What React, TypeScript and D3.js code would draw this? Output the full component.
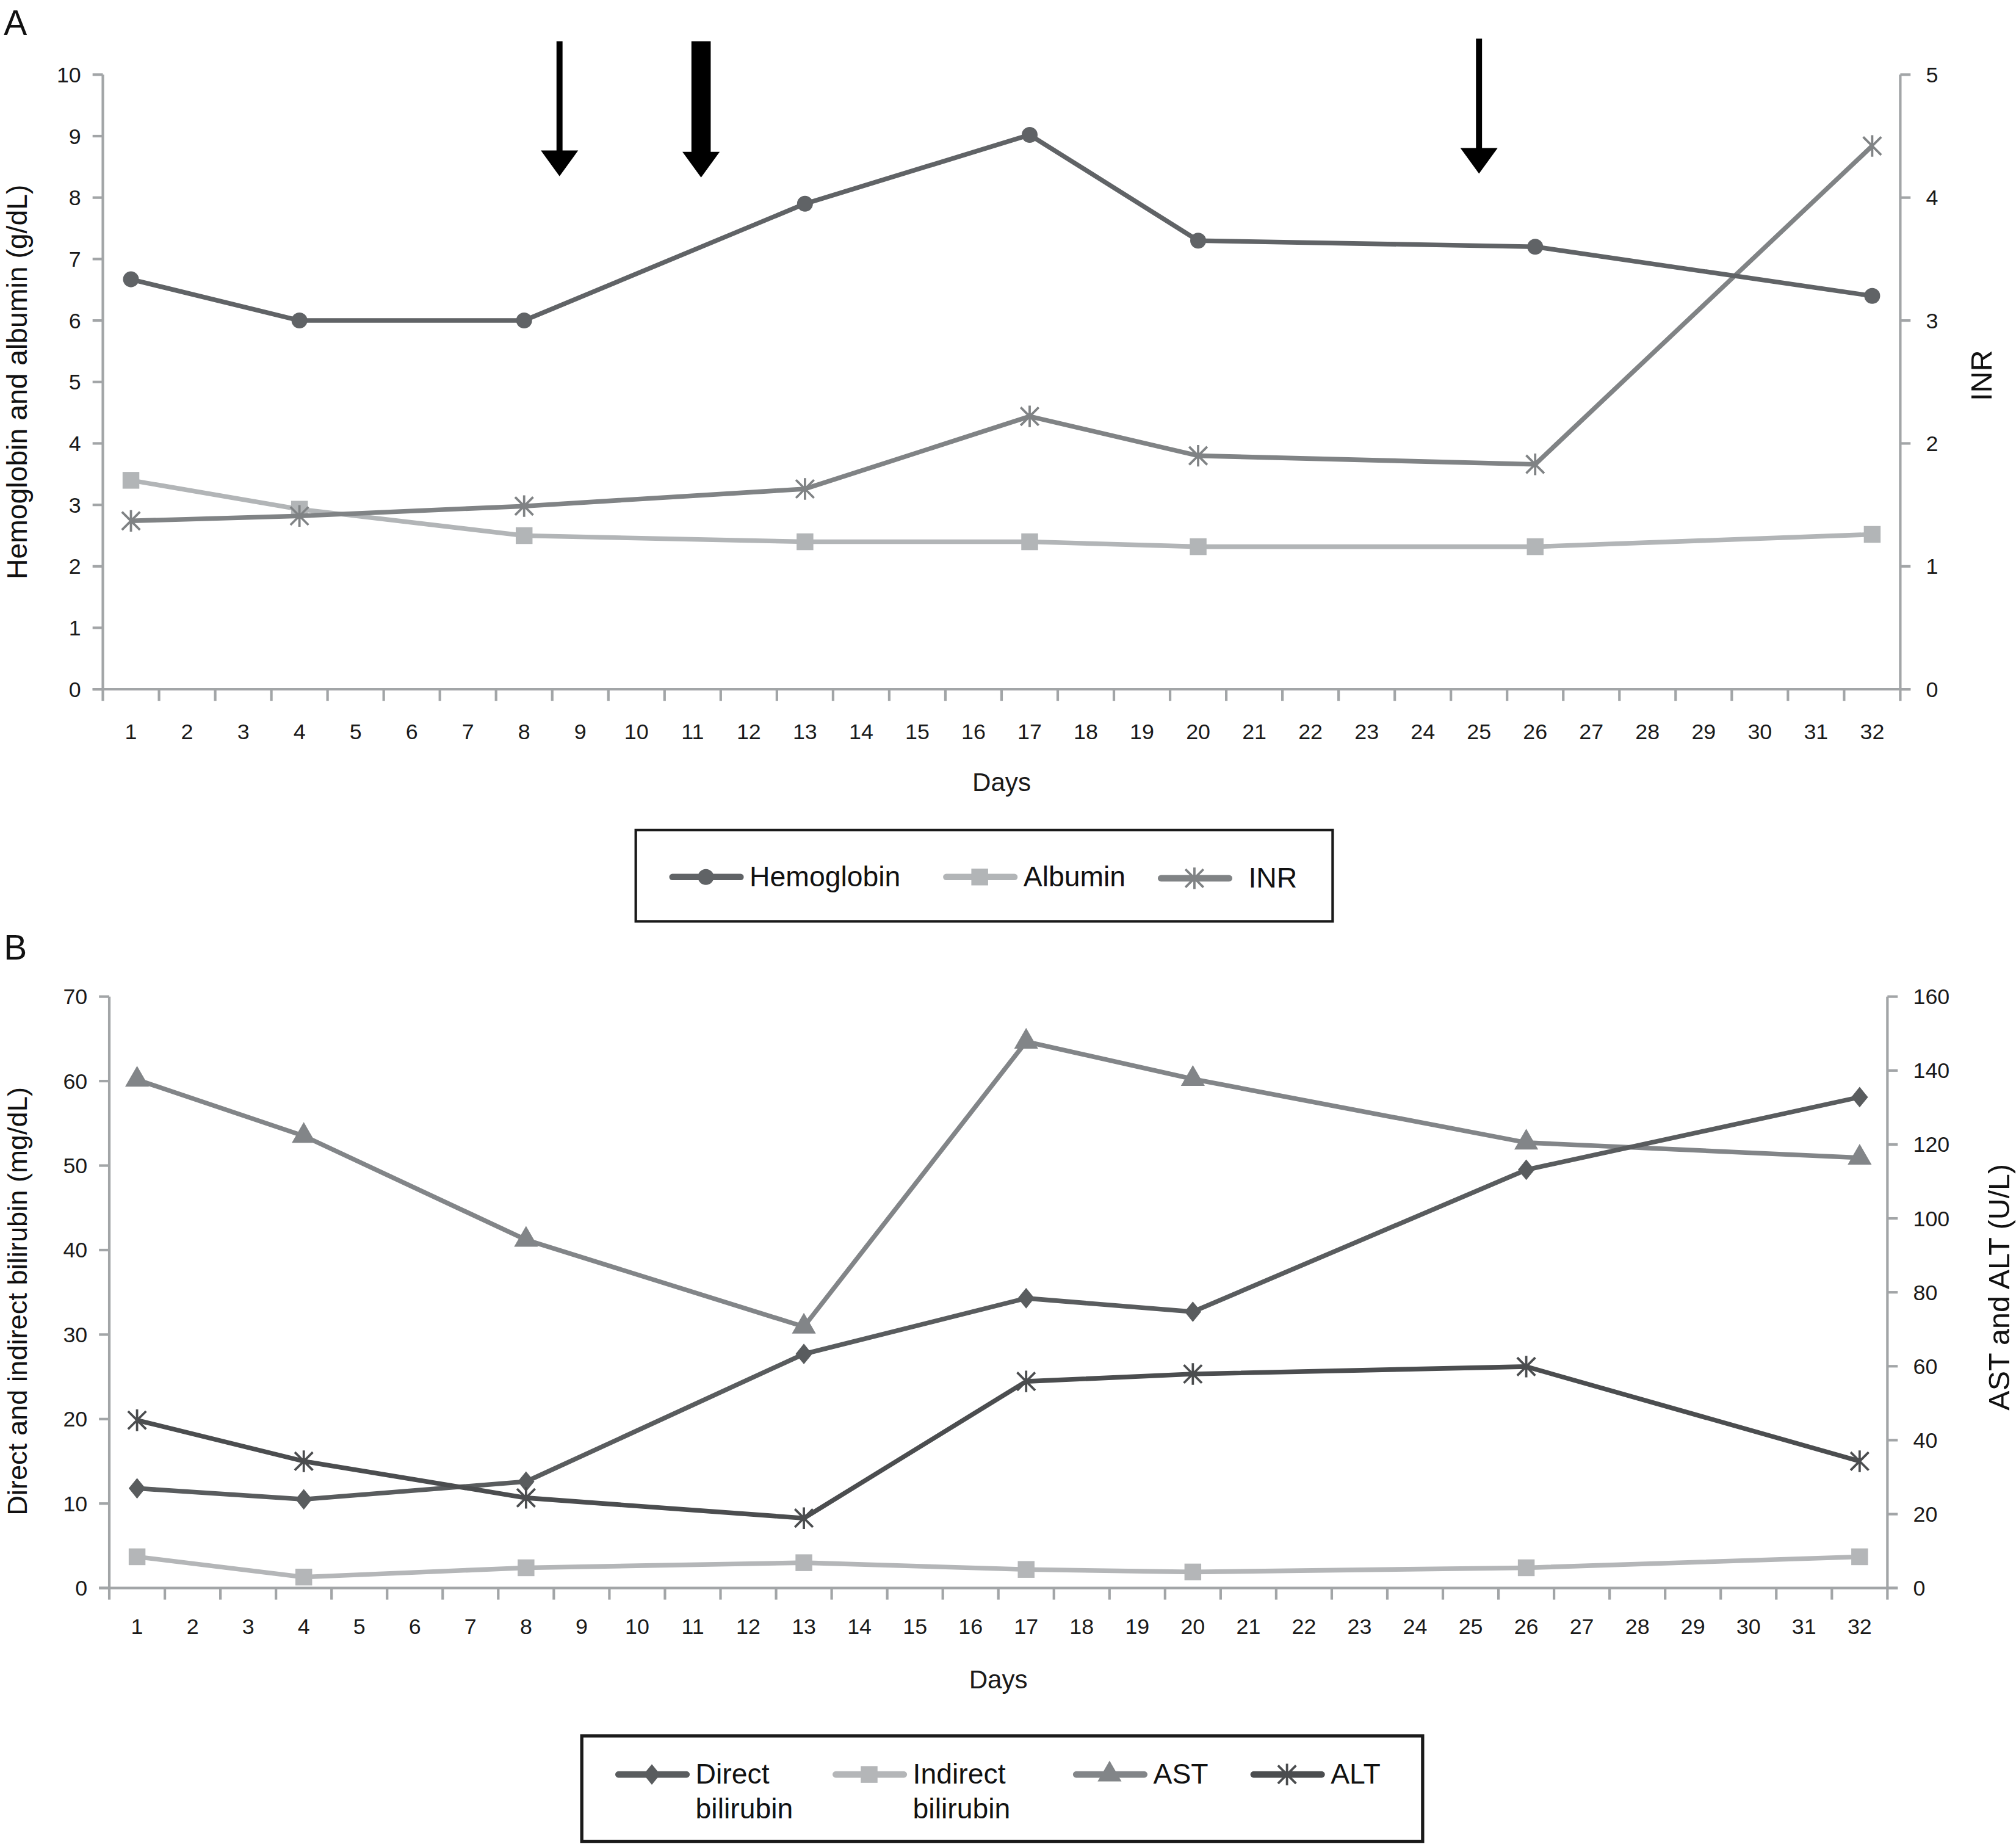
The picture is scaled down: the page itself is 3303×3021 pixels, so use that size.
import { line, scaleBand, scaleLinear, symbol, symbolCircle, symbolSquare, symbolTriangle } from 'd3';

// x axis categories (days) and tick labels
const dayLabels = [
  '1', '2', '3', '4', '5', '6', '7', '8', '9', '10', '11', '12', '13', '14', '15', '16',
  '17', '18', '19', '20', '21', '22', '23', '24', '25', '26', '27', '28', '29', '30', '31', '32',
];
const sampleDays = ['1', '4', '8', '13', '17', '20', '26', '32'];

// panel A
const hemoglobin = [6.67, 6.0, 6.0, 7.9, 9.02, 7.3, 7.2, 6.4];
const albumin = [3.4, 2.93, 2.5, 2.4, 2.4, 2.32, 2.32, 2.52];
const inr = [1.37, 1.41, 1.49, 1.63, 2.22, 1.9, 1.83, 4.42];
const leftTicksA = [0, 1, 2, 3, 4, 5, 6, 7, 8, 9, 10];
const rightTicksA = [0, 1, 2, 3, 4, 5];
const arrowDays = [8.63, 11.15, 25];
const arrowThick = [false, true, false];

// panel B
const directBili = [11.8, 10.5, 12.6, 27.7, 34.3, 32.7, 49.5, 58.1];
const indirectBili = [3.7, 1.3, 2.4, 3.0, 2.2, 1.9, 2.4, 3.7];
const ast = [137.5, 122.3, 94.2, 70.7, 147.8, 137.7, 120.5, 116.4];
const alt = [45.4, 34.3, 24.4, 18.9, 55.9, 57.9, 59.9, 34.3];
const leftTicksB = [0, 10, 20, 30, 40, 50, 60, 70];
const rightTicksB = [0, 20, 40, 60, 80, 100, 120, 140, 160];

const FONT = "'Liberation Sans', Arial, sans-serif";
const AXIS = '#a2a5a7';

type Marker = 'circle' | 'square' | 'star' | 'triangle' | 'diamond';

function markerPath(m: Marker): string {
  if (m === 'star') {
    const r = 7;
    return `M${-r},${-r}L${r},${r}M${-r},${r}L${r},${-r}M0,${-r * 1.2}L0,${r * 1.2}`;
  }
  if (m === 'diamond') return 'M0,-8L6.5,0L0,8L-6.5,0Z';
  const t = { circle: symbolCircle, square: symbolSquare, triangle: symbolTriangle }[m];
  const size = { circle: 120, square: 170, triangle: 150 }[m];
  return symbol(t, size)()!;
}

function Marks({ xs, ys, color, marker }: { xs: number[]; ys: number[]; color: string; marker: Marker }) {
  const pts = xs.map((x, i) => [x, ys[i]] as [number, number]);
  const d = markerPath(marker);
  const star = marker === 'star';
  return (
    <g>
      <path d={line()(pts)!} fill="none" stroke={color} strokeWidth={3.6} strokeLinejoin="round" />
      {pts.map(([x, y], i) => (
        <path
          key={i}
          d={d}
          transform={`translate(${x},${y})`}
          fill={star ? 'none' : color}
          stroke={color}
          strokeWidth={star ? 1.8 : 0}
        />
      ))}
    </g>
  );
}

function Frame({ x0, x1, yTop, yBot, left, right, leftTicks, rightTicks, labelY, daysY }: any) {
  const x = scaleBand().domain(dayLabels).range([x0, x1]);
  const bounds = [...dayLabels.map((d) => x(d)!), x1];
  return (
    <g fontFamily={FONT}>
      <line x1={x0} x2={x0} y1={yTop} y2={yBot} stroke={AXIS} strokeWidth={2} />
      <line x1={x1} x2={x1} y1={yTop} y2={yBot} stroke={AXIS} strokeWidth={2} />
      <line x1={x0 - 8} x2={x1 + 8} y1={yBot} y2={yBot} stroke={AXIS} strokeWidth={2} />
      {bounds.map((bx, i) => (
        <line key={i} x1={bx} x2={bx} y1={yBot} y2={yBot + 9} stroke={AXIS} strokeWidth={2} />
      ))}
      {leftTicks.map((t: number) => (
        <g key={'l' + t}>
          <line x1={x0 - 8} x2={x0} y1={left(t)} y2={left(t)} stroke={AXIS} strokeWidth={2} />
          <text x={x0 - 17} y={left(t)} dy="0.35em" textAnchor="end" fontSize={17} fill="#1a1a1a">
            {t}
          </text>
        </g>
      ))}
      {rightTicks.map((t: number) => (
        <g key={'r' + t}>
          <line x1={x1} x2={x1 + 8} y1={right(t)} y2={right(t)} stroke={AXIS} strokeWidth={2} />
          <text x={x1 + 20} y={right(t)} dy="0.35em" textAnchor="start" fontSize={17} fill="#1a1a1a">
            {t}
          </text>
        </g>
      ))}
      {dayLabels.map((d) => (
        <text key={d} x={x(d)! + x.bandwidth() / 2} y={labelY} textAnchor="middle" fontSize={17} fill="#1a1a1a">
          {d}
        </text>
      ))}
      <text x={(x0 + x1) / 2} y={daysY} textAnchor="middle" fontSize={20} fill="#1a1a1a">
        Days
      </text>
    </g>
  );
}

function LegendItem({ x, y, color, marker, lines }: { x: number; y: number; color: string; marker: Marker; lines: string[] }) {
  return (
    <g>
      <line x1={x} x2={x + 53} y1={y} y2={y} stroke={color} strokeWidth={5} strokeLinecap="round" />
      <path
        d={markerPath(marker)}
        transform={`translate(${x + 26},${y})`}
        fill={marker === 'star' ? 'none' : color}
        stroke={color}
        strokeWidth={marker === 'star' ? 1.8 : 0}
      />
      {lines.map((s, i) => (
        <text key={i} x={x + 60} y={y + 7 + i * 27} fontSize={22} fill="#111" fontFamily={FONT}>
          {s}
        </text>
      ))}
    </g>
  );
}

export default function App() {
  // Panel A scales
  const xA = scaleBand().domain(dayLabels).range([80, 1478]);
  const cxA = (d: string) => xA(d)! + xA.bandwidth() / 2;
  const arrowX = scaleLinear().domain([0.5, 32.5]).range([80, 1478]);
  const yA = scaleLinear().domain([0, 10]).range([536, 58]);
  const yInr = scaleLinear().domain([0, 5]).range([536, 58]);

  // Panel B scales
  const xB = scaleBand().domain(dayLabels).range([85, 1468]);
  const cxB = (d: string) => xB(d)! + xB.bandwidth() / 2;
  const yB = scaleLinear().domain([0, 70]).range([1235, 775]);
  const yEnz = scaleLinear().domain([0, 160]).range([1235, 775]);

  const xsA = sampleDays.map(cxA);
  const xsB = sampleDays.map(cxB);

  return (
    <svg
      width={3303}
      height={3021}
      viewBox="0 0 1568 1434"
      style={{ position: 'absolute', left: 0, top: 0, background: '#fff' }}
    >
      <rect width={1568} height={1434} fill="#fff" />

      {/* Panel A */}
      <text x={3} y={27} fontSize={27} fontFamily={FONT} fill="#111">A</text>
      <Frame x0={80} x1={1478} yTop={58} yBot={536} left={yA} right={yInr} leftTicks={leftTicksA} rightTicks={rightTicksA} labelY={575} daysY={615} />
      <text transform="translate(21,297) rotate(-90)" textAnchor="middle" fontSize={22} fontFamily={FONT} fill="#111">
        Hemoglobin and albumin (g/dL)
      </text>
      <text transform="translate(1549,292) rotate(-90)" textAnchor="middle" fontSize={23} fontFamily={FONT} fill="#111">
        INR
      </text>
      {arrowDays.map((d, i) => {
        const ax = arrowX(d);
        const sw = arrowThick[i] ? 15 : 4.7;
        const top = i === 2 ? 30 : 32;
        const tip = arrowThick[i] ? 138 : i === 2 ? 135 : 137;
        return (
          <g key={i}>
            <rect x={ax - sw / 2} y={top} width={sw} height={tip - top - 15} fill="#000" />
            <path d={`M${ax - 14.5},${tip - 20}L${ax + 14.5},${tip - 20}L${ax},${tip}Z`} fill="#000" />
          </g>
        );
      })}
      <Marks xs={xsA} ys={albumin.map(yA)} color="#b2b5b7" marker="square" />
      <Marks xs={xsA} ys={inr.map(yInr)} color="#808385" marker="star" />
      <Marks xs={xsA} ys={hemoglobin.map(yA)} color="#606366" marker="circle" />

      <rect x={494.5} y={645.5} width={542} height={71} fill="none" stroke="#1a1a1a" strokeWidth={2} />
      <LegendItem x={523} y={682} color="#606366" marker="circle" lines={['Hemoglobin']} />
      <LegendItem x={736} y={682} color="#b2b5b7" marker="square" lines={['Albumin']} />
      <LegendItem x={903} y={683} color="#808385" marker="star" lines={[]} />
      <text x={971} y={690} fontSize={22} fontFamily={FONT} fill="#111">INR</text>

      {/* Panel B */}
      <text x={3} y={746} fontSize={27} fontFamily={FONT} fill="#111">B</text>
      <Frame x0={85} x1={1468} yTop={775} yBot={1235} left={yB} right={yEnz} leftTicks={leftTicksB} rightTicks={rightTicksB} labelY={1271} daysY={1313} />
      <text transform="translate(21,1012) rotate(-90)" textAnchor="middle" fontSize={21.5} fontFamily={FONT} fill="#111">
        Direct and indirect bilirubin (mg/dL)
      </text>
      <text transform="translate(1563,1001) rotate(-90)" textAnchor="middle" fontSize={23} fontFamily={FONT} fill="#111">
        AST and ALT (U/L)
      </text>
      <Marks xs={xsB} ys={indirectBili.map(yB)} color="#b4b6b8" marker="square" />
      <Marks xs={xsB} ys={ast.map(yEnz)} color="#828588" marker="triangle" />
      <Marks xs={xsB} ys={directBili.map(yB)} color="#595c5e" marker="diamond" />
      <Marks xs={xsB} ys={alt.map(yEnz)} color="#4b4d4f" marker="star" />

      <rect x={452.5} y={1350} width={654} height={82} fill="none" stroke="#1a1a1a" strokeWidth={2.5} />
      <LegendItem x={481} y={1380} color="#595c5e" marker="diamond" lines={['Direct', 'bilirubin']} />
      <LegendItem x={650} y={1380} color="#b4b6b8" marker="square" lines={['Indirect', 'bilirubin']} />
      <LegendItem x={837} y={1380} color="#828588" marker="triangle" lines={['AST']} />
      <LegendItem x={975} y={1380} color="#4b4d4f" marker="star" lines={['ALT']} />
    </svg>
  );
}
